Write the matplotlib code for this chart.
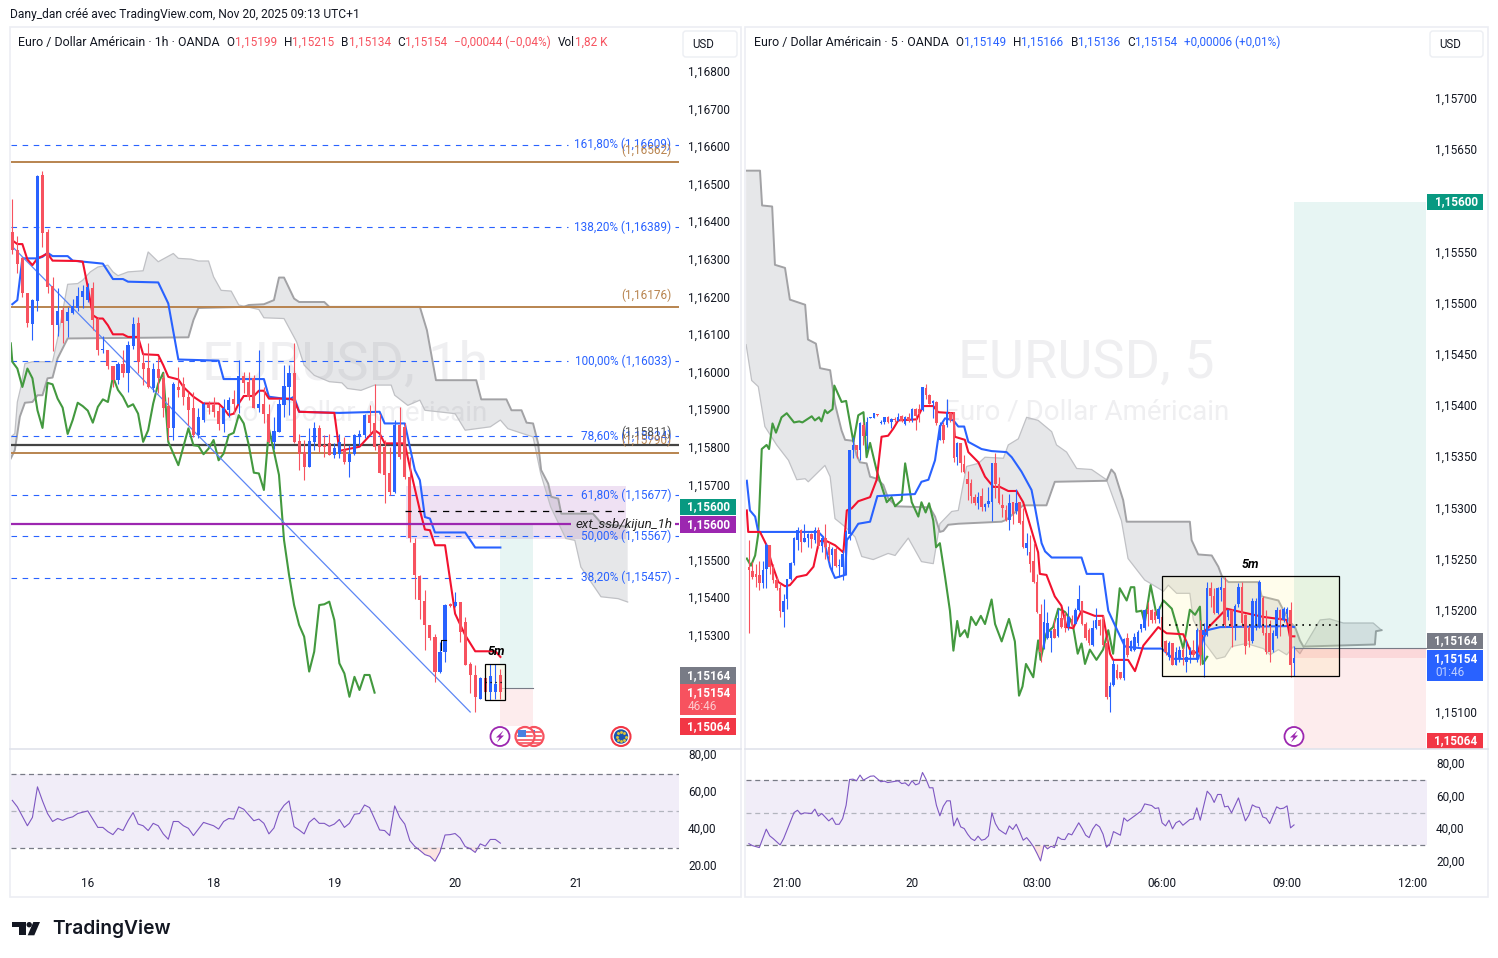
import numpy as np
import matplotlib
matplotlib.use('Agg')
import matplotlib.pyplot as plt
from matplotlib.patches import Rectangle, Circle, Polygon, FancyBboxPatch
from matplotlib.ticker import FuncFormatter
from matplotlib.transforms import ScaledTranslation

plt.rcParams['font.family'] = ['Roboto', 'DejaVu Sans']

# prix stockés en points au-dessus de 1,15000 (1374 -> 1,16374)
# --- EURUSD 1h ---
h1_open = [1374,1325,1303,1210,1128,1190,1524,1372,1229,1125,
1165,1137,1158,1170,1201,1192,1223,1143,1059,1059,
1016,979,1023,999,1070,1132,1026,1011,957,1009,
984,911,851,961,968,935,904,833,873,917,
912,897,862,901,928,917,990,975,984,906,
915,890,815,842,913,961,997,817,789,749,
815,851,806,813,780,784,793,762,784,830,
833,886,864,806,802,731,682,859,855,722,
547,459,391,327,296,203,256,385,378,388,
336,225,196,132,188,150,150,196]
h1_high = [1460,1362,1307,1212,1195,1524,1535,1381,1254,1223,
1174,1174,1196,1227,1232,1238,1241,1146,1096,1059,
1016,1028,1059,1084,1146,1146,1050,1077,1025,1041,
997,935,975,1015,988,948,948,904,921,924,
935,913,928,935,953,1032,1001,1001,992,1059,
961,917,882,930,1019,1019,1077,836,820,852,
867,859,833,836,813,837,828,806,837,846,
890,912,970,890,819,802,873,908,864,775,
558,460,420,327,305,283,385,387,416,389,
349,230,221,190,190,225,225,212]
h1_low = [1314,1263,1201,1121,1086,1163,1334,1210,1057,1096,
1077,1094,1155,1163,1170,1187,1112,1046,1052,1010,
961,970,988,948,1063,997,966,957,948,944,
882,820,820,935,913,859,828,824,868,890,
882,846,842,882,890,892,944,926,906,895,
864,811,797,842,880,886,811,740,713,747,
793,789,775,780,771,771,757,722,780,806,
824,837,793,731,653,673,678,770,717,549,
398,345,261,287,177,199,230,376,376,283,
221,146,97,130,147,128,130,131]
h1_close = [1325,1288,1210,1130,1192,1523,1371,1227,1125,1163,
1132,1160,1176,1203,1216,1227,1140,1059,1061,1016,
979,1023,999,1072,1128,1028,1008,960,1009,984,
904,851,970,953,935,901,833,882,917,906,
895,862,906,926,917,990,972,935,906,915,
888,815,843,915,963,997,815,784,749,817,
851,802,802,780,799,815,762,784,833,837,
886,864,802,731,726,682,859,775,722,558,
460,394,327,292,203,256,380,378,389,310,
221,194,137,188,150,192,170,151]

h1_tenkan_x = [0,1,2,3,4,5,6,7,8,13,14,15,16,17,18,19,20,22,23,25,26,29,30,31,33,34,35,36,37,38,41,42,43,44,45,46,48,49,50,51,55,56,57,64,65,69,72,73,74,78,79,81,82,83,84,86,88,90,92,96,97]
h1_tenkan = [1351,1341,1341,1300,1285,1303,1309,1316,1297,1296,1294,1227,1152,1143,1143,1125,1101,1101,1094,1094,1048,1046,1019,988,981,961,948,935,926,917,917,904,886,890,917,937,937,951,951,930,930,926,895,892,791,802,846,837,811,811,748,633,582,580,540,540,358,301,258,258,243]
h1_kijun_x = [0,1,2,5,6,7,8,11,12,18,20,22,23,29,31,33,41,42,50,51,55,56,57,65,73,74,78,80,81,82,83,84,90,92,97]
h1_kijun = [1181,1192,1303,1303,1307,1318,1309,1309,1297,1289,1248,1248,1241,1239,1183,1034,1031,982,982,935,928,935,895,892,895,864,864,740,713,615,611,574,574,534,534]
h1_chikou_x = [-0.3] + list(range(73))
h1_chikou = [1077,1028,1010,961,1010,984,899,852,972,968,930,906,836,873,919,910,898,866,908,928,921,988,953,935,908,915,890,815,846,917,970,999,815,784,753,802,851,806,804,782,797,820,766,784,833,839,886,864,
806,733,731,687,850,789,727,554,461,381,328,297,204,257,381,383,390,341,226,199,137,190,155,195,195,148]
h1_cloud_b_x = [-0.3,0.5,1.5,2.5,4,5,6,7,8,9,11,35,36,37,46,47,50,52,53,54,56,57,62,63,81,82.4,84.2,92.2,93.2,98.2,99.2,101.2,102.2,103.5,104.5,105.1,106.5,107.1,108.5,109.1,115.4,117.1,122.3]
h1_cloud_b = [771,793,882,919,921,939,939,984,986,1037,1090,1093,1139,1171,1174,1179,1181,1192,1252,1252,1196,1187,1187,1174,1174,1112,979,979,928,928,899,899,866,864,811,740,704,669,664,624,624,598,589]
h1_cloud_a_x = [-0.3,0.5,1,1.7,2.5,4,8,9,11,13,14,15.5,17,19,20,21,23,26,27,29,32,33,35.5,37,39,40,41.5,43.5,45,49,50,54,56.5,58,60,63,65.5,66.6,69.3,72,75.3,76,78.6,81,82,88,90,95,97,98.5,103.5,105,107,110,111.8,113,117,120.4,122.3]
h1_cloud_a = [828,837,921,961,1023,1028,1028,1090,1234,1236,1245,1267,1280,1285,1267,1257,1267,1270,1320,1294,1316,1303,1301,1296,1296,1254,1218,1216,1179,1167,1145,1143,1081,1019,992,975,972,957,952,966,966,939,912,926,899,890,846,855,873,850,828,731,642,558,553,482,403,398,389]

# --- EURUSD 5 min ---
m5_open = [242,238,235,234,226,240,263,242,229,221,
198,210,230,246,268,278,266,270,274,268,
278,262,270,261,253,259,243,242,235,274,
356,361,356,380,370,387,387,391,382,383,
388,383,386,384,389,381,388,385,396,396,
395,417,410,402,403,366,380,380,392,393,
349,363,342,328,324,310,304,311,300,303,
305,343,323,302,297,288,305,296,305,287,
260,256,248,227,196,163,172,172,181,174,
192,194,183,191,186,200,209,186,180,166,
182,190,191,167,115,126,141,139,133,172,
160,161,167,181,182,201,200,198,191,193,
169,154,167,146,152,161,149,156,161,151,
180,175,175,221,213,197,219,221,193,200,
182,206,222,195,182,169,182,184,211,177,
177,161,174,200,190,196,200,148]
m5_high = [268,247,245,248,248,265,263,245,232,226,
215,230,247,271,281,279,284,275,275,281,
281,271,284,266,261,261,250,258,278,356,
369,361,383,383,388,388,392,391,385,388,
389,387,388,392,390,389,392,397,397,401,
418,421,411,405,404,383,383,406,393,393,
364,363,351,336,328,313,315,319,304,320,
343,353,330,313,302,313,305,318,305,299,
275,273,265,235,206,210,198,180,191,201,
200,198,204,195,202,224,209,188,182,190,
202,191,195,173,129,151,147,139,172,177,
170,177,180,186,201,208,201,200,204,195,
170,169,167,164,165,164,170,164,170,182,
190,187,227,227,221,222,232,232,201,201,
206,226,227,196,184,211,211,229,213,200,
190,180,203,201,203,203,208,165]
m5_low = [177,230,222,219,221,221,235,226,219,193,
183,201,229,244,258,256,266,261,260,265,
260,256,250,248,237,242,232,229,234,268,
348,348,346,361,357,387,387,389,381,381,
382,378,383,384,383,380,383,383,376,383,
394,406,401,387,380,366,363,379,383,344,
341,335,334,307,304,302,298,296,296,300,
287,309,303,291,287,278,284,294,284,260,
253,237,226,197,149,162,171,159,172,173,
182,178,180,183,186,199,185,170,166,165,
181,175,165,113,100,125,132,132,131,154,
160,160,165,178,180,184,187,187,187,159,
156,151,146,146,149,146,139,148,154,149,
146,134,174,203,196,196,209,183,190,164,
170,203,183,157,164,167,180,182,175,157,
149,159,172,174,188,188,134,135]
m5_close = [239,232,232,226,239,263,242,229,221,199,
209,230,246,270,278,266,270,274,269,278,
262,270,261,253,259,243,244,254,276,356,
361,356,382,370,383,388,392,390,383,388,
383,386,385,388,384,388,385,396,389,392,
418,410,401,404,382,380,366,393,385,348,
363,343,335,323,311,304,310,300,303,306,
343,323,304,299,288,304,294,304,285,261,
265,245,227,198,159,188,187,179,172,192,
183,182,193,185,200,210,186,172,167,182,
190,184,166,115,125,147,133,133,171,156,
169,173,178,186,200,196,190,190,201,164,
159,167,146,159,161,154,154,161,156,180,
156,180,221,213,197,221,222,185,200,183,
204,222,187,165,169,209,209,227,177,159,
159,177,200,190,201,201,146,153]

m5_kijun_x = [-0.6,0.3,1.8,2.7,20,21.4,23.4,24.8,27.7,28.2,29.6,31.5,34.9,37,47.8,49.7,51.7,53.6,55,56.5,58.9,60.3,62,63.2,67,69.9,74.2,75.7,78.5,81.4,82.4,84.3,85.3,87.2,95.8,97.3,102,103.5,105.4,108.3,114,118.9,122.2,129.4,130.7,132,135.7,155.8,157]
m5_kijun = [326,297,291,276,276,271,242,231,234,268,274,284,286,311,313,325,327,346,379,387,385,379,379,364,357,355,354,349,335,317,300,265,257,251,251,235,235,199,185,164,162,162,152,152,170,180,183,184,183]
m5_tenkan_x = [-0.6,-0.2,3.2,5.1,6.6,8.5,10.4,11.8,13.8,16.6,18.6,20.2,22.4,24.8,27.2,28.2,29.6,31.5,34.9,36.8,38.2,40.1,41.6,43,48.3,50.2,53.1,54.5,58.9,59.3,62.2,63.2,66.1,68,70.4,72.3,74.7,77.1,79,83.3,83.8,85.7,88.1,90,91.5,93.4,95.8,99.6,102,104,104.9,109.2,111.2,113.6,117.9,120.3,125.1,127.5,129.4,130.7,137.6,141.4,148.1,154.9,155.8,157.1]
m5_tenkan = [297,276,276,263,245,227,223,224,232,234,242,267,267,263,256,297,299,306,310,327,369,370,377,385,386,399,399,393,392,369,366,354,344,330,320,320,316,316,305,256,235,234,213,204,183,182,199,194,194,157,151,151,140,165,183,177,176,157,159,177,201,198,193,190,174,174]
m5_chikou_x = [-0.6,0.6,1.8,2.7,3.7,5.1,5.8,6.8,7.8,9.4,10.9,13,14.5,15.4,18.1,19,20.2,20.9,21.9,22.6,24.1,24.6,26.7,28,30.1,31.5,33,33.9,34.9,36.8,39.7,41.1,42.1,44,45,46.9,48.8,49.7,50.9,51.9,53.1,53.9,55,56.5,57.9,58.9,60,60.8,62.2,63,64,65.4,66.8,68,69.9,70.9,72.8,74.9,76.6,77.8,78.8,79.8,81.9,83.3,84,85.7,87.6,89.1,91,92.5,93.4,94.7,95.8,96.8,98.2,100.1,102,103.5,104.9,106.8,108.8,110,111,111.6,113.1,114,115.7,117.4,119.4,121.8,125.1,127,128.5,129.9,130.7,132]
m5_chikou = [250,243,253,274,357,361,357,382,373,388,392,383,384,383,389,385,388,384,395,392,396,419,403,404,364,390,393,349,363,336,305,310,301,307,343,305,291,305,295,304,287,261,265,232,199,160,189,174,180,173,193,185,194,186,210,186,169,191,169,116,125,147,134,170,151,177,183,201,198,191,183,157,167,147,161,151,161,180,157,221,209,222,222,198,199,187,224,195,209,201,162,200,195,203,147,154]
m5_cloud_b_x = [-0.8,3.2,3.8,6.7,7.5,10.4,11.8,16.2,17,19.3,20.5,23.4,24.8,26.7,27.7,30.1,31,32,33.9,34.9,36.8,38.7,40.1,42.5,52.1,53.6,55,56,57.4,60.3,72.8,74.2,79,85.7,88.1,103,104.4,105.4,107.8,108.8,127,127.5,129.4,133.3,135.2,136.2,138.1,146.7,147.7,152.5,153.4,155.8,157.3,158.7,159.7,180.3,180.6,182.2]
m5_cloud_b = [629,629,595,594,537,534,503,498,464,460,436,434,401,375,366,365,351,344,343,330,328,322,309,301,300,291,276,277,283,284,286,288,302,302,325,326,337,333,307,286,286,268,254,253,242,233,227,227,213,209,203,188,183,170,164,166,179,180]
m5_cloud_a_x = [-0.8,0.8,2.7,4.6,8,11.4,13.8,16.2,17.1,21.9,23.4,24.8,27.7,30.6,32.5,35.8,40.1,42.1,45.9,49.7,53.1,55,58.4,60.3,62.7,66.1,68,73.3,74.7,77.6,80,83.3,87.2,88.6,91.5,94.4,98.7,103,107.3,109.2,114,115.5,119.4,120.8,123.2,127,128,131.4,134.7,137.1,139,143.3,148.2,150.1,152.5,154.9,156.8,158.7,164.5,167.3,171.2,179.8,182.2]
m5_cloud_a = [459,424,418,379,361,346,327,328,325,341,330,289,281,271,252,249,255,253,270,247,245,284,296,297,340,343,349,348,361,367,388,385,374,361,354,338,337,327,287,250,229,226,218,224,216,216,190,167,152,154,164,167,162,156,161,156,164,157,190,191,187,187,180]

# --- RSI ---
h1_rsi_x = [0,1,3,4,5,6,7,8,9,10,11,12,13,15,17,18,19,20,21,22,23,24,25,26,27,28,29,30,31,32,33,34,35,36,38,39,40,41,42,43,44,45,46,48,49,50,51,52,53,54,55,56,57,58,59,60,61,62,63,64,65,66,67,68,69,70,71,73,74,75,76,77,78,79,80,81,82,83,84,85,86,87,88,89,90,91,92,93,94,95,96,97]
h1_rsi = [55.5,52,41.8,46.3,62.8,55.2,48.4,44.1,45.7,44.7,45.9,46.6,48.4,49.8,40.9,40.9,38.6,37,40.4,39.2,44.5,48.9,42.7,41.8,39.2,43.1,41.8,37.4,34.5,44.1,44.1,41.8,40.4,36.5,43.6,42.7,41.8,40,44.1,45.7,45.4,52,50.7,44.5,45.4,43.1,37.4,40.6,48.9,52.8,55.2,41.3,39.5,37.4,43.6,45.9,43.1,43.1,41.5,42.7,45.2,40.9,43.1,48,48.4,53,51.6,39.5,39.2,36.5,52.5,46.3,42.7,33.8,30.6,28.5,26.2,25.3,22.6,27.6,36.8,37,37.6,35.2,30.6,29.4,27.4,32,30.8,34.4,34.4,32.4]
m5_rsi_x = [0,1,3,5,6,7,9,10,13,14,15,16,18,19,20,21,23,24,25,26,27,28,29,30,31,32,33,35,36,38,39,40,42,43,44,45,46,47,48,49,50,51,52,53,54,55,56,57,58,59,60,61,62,63,64,65,66,67,68,69,70,71,72,73,74,75,76,77,78,79,80,81,82,83,84,85,86,87,88,89,90,91,92,93,95,96,97,98,99,100,101,102,103,104,105,107,108,109,111,113,114,116,117,118,119,120,121,122,123,124,125,127,128,129,130,132,133,134,135,136,137,138,139,141,142,143,144,145,146,147,148,149,150,151,152,153,154,155,156,157]
m5_rsi = [31.1,29.9,28.7,40,35.9,34.2,30.3,34.2,50.2,51.6,49.2,50,49.6,52.3,48,49.6,45.1,46.9,43,43,46.5,54.7,70.5,70.7,69.7,73.2,70.1,72.5,72.7,69.1,69.5,68.6,69.3,69.7,68,68.4,66.6,69.7,67.2,68,74.8,70.7,65.4,65.4,54.7,48.2,54.1,57.4,57.4,42,46.9,41.4,40.4,36.9,34.2,33,35.7,33.2,33.8,35.9,50,43.4,39.8,38.3,36.9,42,39.8,43,38.3,33.2,34.8,32.2,29.1,25,20.5,30.1,27.9,29.5,28.7,35.2,33.8,33.6,37.3,36.5,43.9,40.4,36.3,34.8,40,43,41.4,36.9,28.9,31.1,38.5,36.3,46.9,44.9,48,51.2,55.5,54.5,52.7,53.1,43.9,42,45.5,40.2,43.9,45.1,42.4,45.9,46.3,53.1,45.5,63.3,60.9,56.4,61.3,61.3,53.7,54.1,50,59.2,52,45.1,48.6,54.9,53.7,53.3,47.5,46.7,43.4,48.6,53.7,52.5,52.9,54.3,40.8,42.6]

# axes de temps et de prix
h1_time_pos = [15, 40, 64, 88, 112]
h1_time_lab = ['16', '18', '19', '20', '21']
m5_time_pos = [11, 47, 83, 119, 155, 191]
m5_time_lab = ['21:00', '20', '03:00', '06:00', '09:00', '12:00']
h1_price_ticks = [1.153,1.154,1.155,1.157,1.158,1.159,1.16,1.161,1.162,1.163,1.164,1.165,1.166,1.167,1.168]
m5_price_ticks = [1.151,1.152,1.1525,1.153,1.1535,1.154,1.1545,1.155,1.1555,1.1565,1.157]

# niveaux de fibo et lignes horizontales
fib_labels = ['161,80%', '138,20%', '100,00%', '78,60%', '61,80%', '50,00%', '38,20%']
fib_prices = [1.16609, 1.16389, 1.16033, 1.15834, 1.15677, 1.15567, 1.15457]
fib_gap = [110.5, 110.5, 110.5, 112, 112, 112, 112]
brown_prices = [1.16562, 1.16176, 1.15790]

BLUE = '#2962ff'
RED = '#f7525f'
LINE_RED = '#f2122f'
GREEN = '#43993f'
BROWN = '#b8844f'
PURPLE = '#9c27b0'
TXT = '#131722'
W, H = 1498, 958

def px_axes(x0, y0, x1, y1):
    return fig.add_axes([x0/W, 1-y1/H, (x1-x0)/W, (y1-y0)/H])

def h1p(v):
    return 1.15 + (np.array(v) + 3.5)/1e5

def m5p(v):
    return 1.15 + (np.array(v) + 1.5)/1e5

def draw_candles(ax, o, h, l, c, width, conv):
    o, h, l, c = conv(o), conv(h), conv(l), conv(c)
    x = np.arange(len(o))
    col = [BLUE if cc >= oo else RED for oo, cc in zip(o, c)]
    ax.vlines(x, l, h, colors=col, lw=0.8, zorder=4.3)
    ax.bar(x, np.maximum(np.abs(c-o), 0.00001), bottom=np.minimum(o, c), width=width, color=col, lw=0, zorder=4.3)

def draw_cloud(ax, xa, ya, xb, yb, conv):
    ya, yb = conv(ya), conv(yb)
    ax.fill(list(xa)+list(xb)[::-1], list(ya)+list(yb)[::-1], color='#787b86', alpha=0.18, lw=0, zorder=1)
    ax.plot(xa, ya, color='#c0c1c5', lw=0.9, zorder=2)
    ax.plot(xb, yb, color='#a2a2a5', lw=1.4, zorder=2)

def clean(ax):
    for s in ax.spines.values():
        s.set_visible(False)
    ax.tick_params(length=0, labelsize=8.5, labelcolor=TXT)
    ax.yaxis.tick_right()

def lift_labels(ax, px):
    off = ScaledTranslation(0, px/100, fig.dpi_scale_trans)
    for lab in ax.get_yticklabels():
        lab.set_transform(lab.get_transform() + off)

fig = plt.figure(figsize=(W/100, H/100), dpi=100, facecolor='white')

# --- panneau gauche ---
ax1 = px_axes(11, 28, 679, 749)
clean(ax1)
ax1.set_xlim(-0.26, 132.5)
ax1.set_ylim(1.150016, 1.169192)
ax1.set_xticks([])
ax1.set_yticks(h1_price_ticks)
ax1.yaxis.set_major_formatter(FuncFormatter(lambda v, p: f'{v:.5f}'.replace('.', ',')))
ax1.tick_params(axis='y', pad=6.5)
lift_labels(ax1, 2)
ax1.text(0.5, 0.533, 'EURUSD, 1h', transform=ax1.transAxes, ha='center', va='center', fontsize=39, color='#efeff1', zorder=0)
ax1.text(0.5, 0.466, 'Euro / Dollar Américain', transform=ax1.transAxes, ha='center', va='center', fontsize=20, color='#efeff1', zorder=0)

ax1.add_patch(Rectangle((78.3, 1.15559), 43.7, 0.00141, color='#efe1f3', lw=0, zorder=0.5))
draw_cloud(ax1, h1_cloud_a_x, h1_cloud_a, h1_cloud_b_x, h1_cloud_b, h1p)
ax1.add_patch(Rectangle((97, 1.15164), 6.4, 0.00436, color='#08998118', lw=0, zorder=2.5))
ax1.add_patch(Rectangle((97, 1.15064), 6.4, 0.001, color='#f2364518', lw=0, zorder=2.5))
ax1.plot([97, 103.4], [1.15164, 1.15164], color='#787b86', lw=0.8, zorder=2.6)
draw_candles(ax1, h1_open, h1_high, h1_low, h1_close, 0.62, h1p)
ax1.plot(h1_chikou_x, h1p(h1_chikou), color=GREEN, lw=1.5, zorder=4)
ax1.plot(h1_kijun_x, h1p(h1_kijun), color=BLUE, lw=1.5, zorder=4)
ax1.plot(h1_tenkan_x, h1p(h1_tenkan), color=LINE_RED, lw=1.5, zorder=4.1)
ax1.plot([-0.3, 91], [1.16342, 1.151], color='#5c86f5', lw=0.9, zorder=4)

for lab, p, g in zip(fib_labels, fib_prices, fib_gap):
    ax1.hlines(p, -0.26, g, colors=BLUE, lw=0.8, linestyles=(0, (5, 5)), zorder=2.7)
    ax1.hlines(p, 131.7, 132.5, colors=BLUE, lw=0.8, zorder=2.7)
    ax1.text(131, p, f'{lab} ({p:.5f})'.replace('.', ','), color=BLUE, fontsize=8.5, ha='right', va='center', zorder=5)
for p in brown_prices:
    ax1.hlines(p, -0.26, 132.5, colors=BROWN, lw=1.4, zorder=2.8)
    ax1.text(131, p + 0.00014, f'({p:.5f})'.replace('.', ','), color=BROWN, fontsize=8.5, ha='right', va='bottom', zorder=5)
ax1.hlines(1.15811, -0.26, 132.5, colors='#444444', lw=1.6, zorder=2.9)
ax1.text(131, 1.15825, '(1,15811)', color='#555555', fontsize=8.5, ha='right', va='bottom', zorder=5)
ax1.hlines(1.15634, 78, 122, colors='black', lw=0.9, linestyles=(0, (5, 5)), zorder=5)
ax1.hlines(1.156, -0.26, 111, colors=PURPLE, lw=1.6, zorder=4.5)
ax1.hlines(1.156, 131.7, 132.5, colors=PURPLE, lw=1.6, zorder=4.5)
ax1.text(131.3, 1.156, 'ext_ssb/kijun_1h', color='#222222', fontsize=9.6, style='italic', ha='right', va='center', zorder=5)

ax1.add_patch(Rectangle((94, 1.15131), 4, 0.00097, fc='#fffbe6', ec='none', alpha=0.6, zorder=2.8))
ax1.add_patch(Rectangle((94, 1.15131), 4, 0.00097, fc='none', ec='black', lw=0.9, zorder=5))
ax1.hlines(1.1518, 94, 98, colors='black', lw=0.9, linestyles=(0, (1, 3)), zorder=5)
ax1.plot([85.1, 85.1, 86.1], [1.15265, 1.15292, 1.15292], color='black', lw=0.8, zorder=5)
ax1.text(96.1, 1.1526, '5m', color='black', fontsize=9, fontweight='bold', style='italic', ha='center', va='center', zorder=6)

# --- panneau droit ---
ax2 = px_axes(746, 28, 1427, 749)
clean(ax2)
ax2.set_xlim(-0.835, 195.3)
ax2.set_ylim(1.150654, 1.157699)
ax2.set_xticks([])
ax2.set_yticks(m5_price_ticks)
ax2.yaxis.set_major_formatter(FuncFormatter(lambda v, p: f'{v:.5f}'.replace('.', ',')))
ax2.tick_params(axis='y', pad=5.8)
lift_labels(ax2, 1.5)
ax2.text(0.5, 0.535, 'EURUSD, 5', transform=ax2.transAxes, ha='center', va='center', fontsize=39, color='#efeff1', zorder=0)
ax2.text(0.5, 0.468, 'Euro / Dollar Américain', transform=ax2.transAxes, ha='center', va='center', fontsize=20, color='#efeff1', zorder=0)

draw_cloud(ax2, m5_cloud_a_x, m5_cloud_a, m5_cloud_b_x, m5_cloud_b, m5p)
ax2.add_patch(Rectangle((157, 1.15164), 38, 0.00436, color='#08998118', lw=0, zorder=2.5))
ax2.add_patch(Rectangle((157, 1.15064), 38, 0.001, color='#f2364518', lw=0, zorder=2.5))
ax2.add_patch(Rectangle((157, 1.15154), 38, 0.0001, color='#f236451c', lw=0, zorder=2.5))
ax2.plot([157, 195], [1.15164, 1.15164], color='#787b86', lw=0.8, zorder=2.6)
ax2.add_patch(Rectangle((119, 1.15137), 51, 0.00097, fc='#fff59d30', ec='none', zorder=2.4))
ax2.add_patch(Rectangle((119, 1.15137), 51, 0.00097, fc='none', ec='black', lw=0.9, zorder=5))
draw_candles(ax2, m5_open, m5_high, m5_low, m5_close, 0.72, m5p)
ax2.plot(m5_chikou_x, m5p(m5_chikou), color=GREEN, lw=1.5, zorder=4)
ax2.plot(m5_kijun_x, m5p(m5_kijun), color=BLUE, lw=1.5, zorder=4)
ax2.plot(m5_tenkan_x, m5p(m5_tenkan), color=LINE_RED, lw=1.5, zorder=4.1)
ax2.hlines(1.15187, 121, 170, colors='black', lw=1.2, linestyles=(0, (1, 3)), zorder=5)
ax2.text(144.5, 1.15246, '5m', color='black', fontsize=9, fontweight='bold', style='italic', ha='center', va='center', zorder=6)

# --- RSI ---
for rect, ylim, rsi_x, rsi, xlim, tpos, tlab, pad in [
        ((11, 750, 679, 870), (17.9, 82.7), h1_rsi_x, h1_rsi, (-0.26, 132.5), h1_time_pos, h1_time_lab, 5),
        ((746, 750, 1427, 872), (13.7, 88.6), m5_rsi_x, m5_rsi, (-0.835, 195.3), m5_time_pos, m5_time_lab, 3.6)]:
    ax = px_axes(*rect)
    clean(ax)
    ax.set_xlim(*xlim)
    ax.set_ylim(*ylim)
    ax.axhspan(30, 70, color='#7e57c2', alpha=0.1, lw=0)
    ax.axhline(70, color='#787b86', lw=0.9, dashes=(4, 3))
    ax.axhline(30, color='#787b86', lw=0.9, dashes=(4, 3))
    ax.axhline(50, color='#b2b5be', lw=0.9, dashes=(4, 3))
    ax.plot(rsi_x, rsi, color='#7e57c2', lw=0.8, zorder=3)
    ax.fill_between(rsi_x, rsi, 30, where=np.array(rsi) < 30, interpolate=True, color='#f7a8a0', alpha=0.3, lw=0)
    ax.set_yticks([20, 40, 60, 80])
    ax.set_yticklabels(['20,00', '40,00', '60,00', '80,00'])
    ax.tick_params(axis='y', pad=6.5)
    lift_labels(ax, 1)
    ax.set_xticks(tpos)
    ax.set_xticklabels(tlab)
    ax.tick_params(axis='x', pad=pad)

# --- habillage en pixels ---
ov = fig.add_axes([0, 0, 1, 1], zorder=10)
ov.set_xlim(0, W)
ov.set_ylim(H, 0)
ov.axis('off')
ov.patch.set_alpha(0)

FRAME = '#eceef3'
for x0, x1 in [(10, 741), (745, 1488)]:
    ov.add_patch(Rectangle((x0, 27), x1-x0, 870, fc='none', ec=FRAME, lw=1.2))
    ov.plot([x0, x1], [749, 749], color='#e0e3eb', lw=1.2)
ov.add_patch(Rectangle((681, 869.5), 58, 7, fc='white', ec='none'))

def rbox(x0, y0, x1, y1):
    ov.add_patch(FancyBboxPatch((x0+3, y0+3), x1-x0-6, y1-y0-6, boxstyle='round,pad=3', fc='white', ec='#eceef3', lw=1))
rbox(683, 31, 737, 57)
rbox(1430, 31, 1483, 57)
ov.text(703, 44.5, 'USD', ha='center', va='center', fontsize=8.3, color=TXT)
ov.text(1450, 44.5, 'USD', ha='center', va='center', fontsize=8.3, color=TXT)

def tag(x0, x1, y0, y1, col, txt, sub=None):
    ov.add_patch(Rectangle((x0, y0), x1-x0, y1-y0, fc=col, ec='none'))
    if sub is None:
        ov.text(x0+29, (y0+y1)/2, txt, color='white', fontsize=8.5, fontweight='bold', ha='center', va='center')
    else:
        ov.text(x0+29, y0+8.5, txt, color='white', fontsize=8.5, fontweight='bold', ha='center', va='center')
        ov.text(x0+8, y0+22.5, sub, color='#ffffffb0', fontsize=8.5, ha='left', va='center')

tag(680, 736, 499, 515, '#089981', '1,15600')
tag(680, 736, 516, 533, PURPLE, '1,15600')
tag(680, 736, 667, 684, '#787b86', '1,15164')
tag(680, 736, 684, 715, RED, '1,15154', '46:46')
tag(680, 736, 718, 735, '#f23645', '1,15064')
tag(1427, 1483, 194, 210, '#089981', '1,15600')
tag(1427, 1483, 633, 649, '#787b86', '1,15164')
tag(1427, 1483, 650, 681, BLUE, '1,15154', '01:46')
tag(1427, 1483, 733, 749, '#f23645', '1,15064')

# textes du haut
ov.text(10, 14.5, 'Dany_dan créé avec TradingView.com, Nov 20, 2025 09:13 UTC+1', fontsize=8.67, color=TXT, va='center')

def header(x, y, parts):
    r = fig.canvas.get_renderer()
    for s, c, gap, fs in parts:
        t = ov.text(x, y, s, color=c, fontsize=fs, va='center', ha='left')
        x += t.get_window_extent(r).width + gap

F = 8.5
header(18, 42, [('Euro / Dollar Américain · 1h · OANDA', TXT, 7, 8.9), ('O', TXT, 0, F), ('1,15199', RED, 7, F), ('H', TXT, 0, F), ('1,15215', RED, 7, F),
                ('B', TXT, 0, F), ('1,15134', RED, 7, F), ('C', TXT, 0, F), ('1,15154', RED, 7, F), ('−0,00044 (−0,04%)', RED, 7, F), ('Vol', TXT, 0, F), ('1,82 K', RED, 0, F)])
header(754, 42, [('Euro / Dollar Américain · 5 · OANDA', TXT, 7, 8.9), ('O', TXT, 0, F), ('1,15149', BLUE, 7, F), ('H', TXT, 0, F), ('1,15166', BLUE, 7, F),
                 ('B', TXT, 0, F), ('1,15136', BLUE, 7, F), ('C', TXT, 0, F), ('1,15154', BLUE, 7, F), ('+0,00006 (+0,01%)', BLUE, 0, F)])

# icones d'évènements
def bolt(cx, cy):
    ov.add_patch(Circle((cx, cy), 9.5, fc='white', ec=PURPLE, lw=1.3, zorder=7))
    ov.add_patch(Polygon([(cx+3.5, cy-6), (cx-4, cy+1), (cx-0.5, cy+1), (cx-3, cy+6), (cx+4, cy-1), (cx+0.5, cy-1)], fc=PURPLE, ec='none', zorder=8))

def us_flag(cx, cy, z):
    ov.add_patch(Circle((cx, cy), 9.5, fc='white', ec='#f7525f', lw=1.6, zorder=z))
    for dy in (-5, -1, 3, 6):
        ov.plot([cx-7, cx+7], [cy+dy, cy+dy], color='#f7525f', lw=1.2, zorder=z+0.1)
    ov.add_patch(Rectangle((cx-7, cy-6.5), 8, 6.5, fc='#4a7fe0', ec='none', zorder=z+0.2))

bolt(500, 736.5)
us_flag(534, 736.5, 7)
us_flag(525, 736.5, 8)
ov.add_patch(Circle((621, 736.5), 9.5, fc='white', ec='#f23645', lw=1.5, zorder=7))
ov.add_patch(Circle((621, 736.5), 7.2, fc='#1a56b0', ec='none', zorder=8))
for a in np.arange(0, 360, 45):
    ov.plot(621+4.5*np.cos(np.radians(a)), 736.5+4.5*np.sin(np.radians(a)), 'o', ms=1.1, color='#d8c23a', zorder=9)
bolt(1294, 736.5)

# logo
ov.add_patch(Polygon([(11.7, 922), (26, 922), (26, 935.3), (19, 935.3), (19, 927), (11.7, 927)], fc='#131722', ec='none'))
ov.add_patch(Circle((29.2, 924.7), 2.7, fc='#131722', ec='none'))
ov.add_patch(Polygon([(33.3, 922), (40, 922), (34.3, 935.3), (27.7, 935.3)], fc='#131722', ec='none'))
ov.text(52.5, 928.5, 'TradingView', fontsize=13.8, fontweight='semibold', family='Inter', color='#131722', va='center', ha='left')

fig.savefig('out.png', dpi=100, facecolor='white')
